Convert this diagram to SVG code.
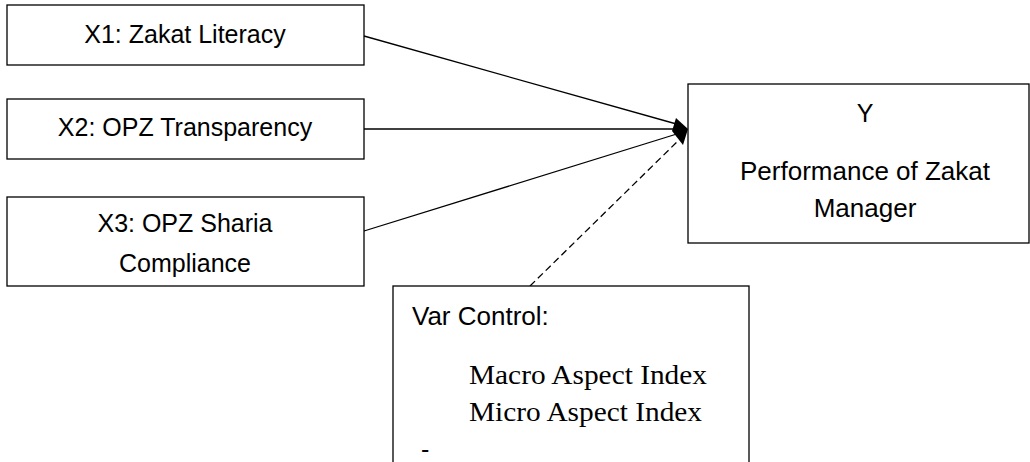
<svg xmlns="http://www.w3.org/2000/svg" width="1030" height="462" viewBox="0 0 1030 462">
<style>
.box{fill:#fff;stroke:#000;stroke-width:1.3}
.t{font-family:"Liberation Sans",Arial,sans-serif;font-size:25px;fill:#000}
.s{font-family:"Liberation Serif","Times New Roman",serif;font-size:27px;fill:#000}
.ln{stroke:#000;stroke-width:1.3;fill:none}
.dash{stroke:#000;stroke-width:1.3;fill:none;stroke-dasharray:7,4}
</style>
<rect width="1030" height="462" fill="#fff"/>
<g id="connectors">
<line class="ln" x1="364" y1="36" x2="680" y2="125"/>
<line class="ln" x1="364" y1="129" x2="680" y2="129"/>
<line class="ln" x1="364" y1="231" x2="680" y2="133"/>
<line class="dash" x1="530" y1="286" x2="682" y2="137"/>
<polygon points="676,118 688,129 683,145 672,131" fill="#000"/>
</g>
<g id="x1">
<rect class="box" x="7" y="5" width="357" height="60"/>
<text class="t" x="185" y="43" text-anchor="middle">X1: Zakat Literacy</text>
</g>
<g id="x2">
<rect class="box" x="7" y="99" width="357" height="60"/>
<text class="t" x="185" y="136" text-anchor="middle">X2: OPZ Transparency</text>
</g>
<g id="x3">
<rect class="box" x="7" y="197" width="357" height="89"/>
<text class="t" x="185" y="232" text-anchor="middle">X3: OPZ Sharia</text>
<text class="t" x="185" y="272" text-anchor="middle">Compliance</text>
</g>
<g id="y">
<rect class="box" x="688" y="84" width="341" height="159"/>
<text class="t" x="865" y="122" text-anchor="middle">Y</text>
<text class="t" x="865" y="180" text-anchor="middle" style="font-size:26px">Performance of Zakat</text>
<text class="t" x="865" y="217" text-anchor="middle" style="font-size:26px">Manager</text>
</g>
<g id="control">
<rect class="box" x="393" y="286" width="356" height="190"/>
<text class="t" x="412" y="325" style="font-size:26px">Var Control:</text>
<text class="s" x="469" y="384" textLength="238" lengthAdjust="spacingAndGlyphs">Macro Aspect Index</text>
<text class="s" x="469" y="421" textLength="233" lengthAdjust="spacingAndGlyphs">Micro Aspect Index</text>
<text class="t" x="421" y="458">-</text>
</g>
</svg>
